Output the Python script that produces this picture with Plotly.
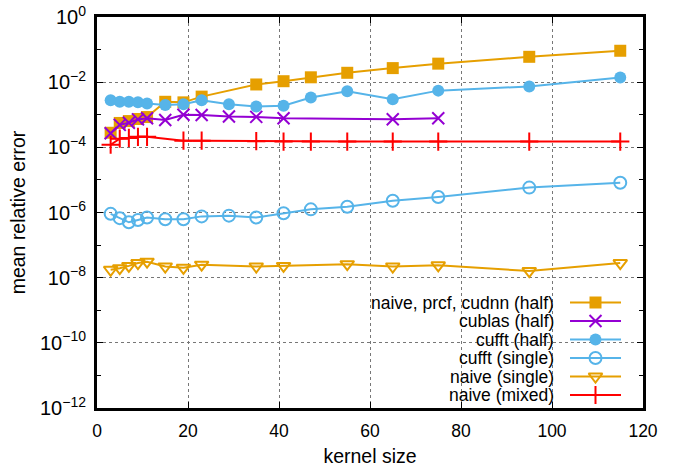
import plotly.graph_objects as go

# kernel sizes and mean relative error per implementation
x_prcf = [3, 5, 7, 9, 11, 15, 19, 23, 35, 41, 47, 55, 65, 75, 95, 115]
y_prcf = [2.8e-4, 5.6e-4, 6.4e-4, 7.4e-4, 8.5e-4, 2.5e-3, 2.4e-3, 3.6e-3,
          8.5e-3, 1.07e-2, 1.41e-2, 1.94e-2, 2.7e-2, 3.7e-2, 6.0e-2, 9.2e-2]

x_cublas = [3, 5, 7, 9, 11, 15, 19, 23, 29, 35, 41, 65, 75]
y_cublas = [2.7e-4, 4.9e-4, 5.7e-4, 7.2e-4, 7.8e-4, 6.9e-4, 1.0e-3, 9.8e-4,
            8.8e-4, 8.6e-4, 7.8e-4, 7.3e-4, 7.8e-4]

x_cufft_half = [3, 5, 7, 9, 11, 15, 19, 23, 29, 35, 41, 47, 55, 65, 75, 95, 115]
y_cufft_half = [2.8e-3, 2.5e-3, 2.5e-3, 2.4e-3, 2.2e-3, 2.0e-3, 2.1e-3, 2.8e-3,
                2.1e-3, 1.8e-3, 1.9e-3, 3.4e-3, 5.3e-3, 3.0e-3, 5.5e-3, 7.4e-3, 1.38e-2]

x_cufft_single = [3, 5, 7, 9, 11, 15, 19, 23, 29, 35, 41, 47, 55, 65, 75, 95, 115]
y_cufft_single = [9.1e-7, 6.7e-7, 5.0e-7, 5.9e-7, 7.0e-7, 6.2e-7, 6.2e-7, 7.6e-7,
                  8.0e-7, 7.0e-7, 9.5e-7, 1.25e-6, 1.5e-6, 2.3e-6, 3.0e-6, 5.8e-6, 8.2e-6]

x_naive_single = [3, 5, 7, 9, 11, 15, 19, 23, 35, 41, 55, 65, 75, 95, 115]
y_naive_single = [1.75e-8, 1.95e-8, 2.3e-8, 2.8e-8, 3.1e-8, 2.2e-8, 2.0e-8, 2.5e-8,
                  2.2e-8, 2.3e-8, 2.6e-8, 2.2e-8, 2.4e-8, 1.6e-8, 2.8e-8]

x_naive_mixed = [3, 5, 7, 9, 11, 19, 23, 35, 41, 47, 55, 65, 75, 95, 115]
y_naive_mixed = [1.2e-4, 1.85e-4, 1.95e-4, 2.1e-4, 2.1e-4, 1.6e-4, 1.6e-4, 1.55e-4,
                 1.5e-4, 1.5e-4, 1.5e-4, 1.5e-4, 1.5e-4, 1.5e-4, 1.5e-4]

x_ticks = [0, 20, 40, 60, 80, 100, 120]
y_exponents = [0, -2, -4, -6, -8, -10, -12]

ORANGE = "#E69F00"
PURPLE = "#9400D3"
BLUE = "#56B4E9"
RED = "#FF0000"

series = [
    ("naive, prcf, cudnn (half)", x_prcf, y_prcf, ORANGE,
     dict(symbol="square", size=12, color=ORANGE)),
    ("cublas (half)", x_cublas, y_cublas, PURPLE,
     dict(symbol="x-thin", size=12, line=dict(color=PURPLE, width=2))),
    ("cufft (half)", x_cufft_half, y_cufft_half, BLUE,
     dict(symbol="circle", size=12, color=BLUE)),
    ("cufft (single)", x_cufft_single, y_cufft_single, BLUE,
     dict(symbol="circle-open", size=12, color=BLUE, line=dict(color=BLUE, width=2))),
    ("naive (single)", x_naive_single, y_naive_single, ORANGE,
     dict(symbol="triangle-down-open", size=12, color=ORANGE, line=dict(color=ORANGE, width=2))),
    ("naive (mixed)", x_naive_mixed, y_naive_mixed, RED,
     dict(symbol="cross-thin", size=13, line=dict(color=RED, width=2))),
]

fig = go.Figure()
for name, xs, ys, color, marker in series:
    fig.add_trace(go.Scatter(x=xs, y=ys, mode="lines+markers", name=name,
                             line=dict(color=color, width=2), marker=marker,
                             showlegend=False, cliponaxis=False))

# key drawn in an overlay axis measured in pixels of the plot area
W, H = 687, 469
L, R, T, B = 97, 44, 17, 61
key_top, key_gap = 302.5, 18.5
key_text_x, key_line = 556, (570, 621)
annotations = []
for i, (name, xs, ys, color, marker) in enumerate(series):
    ky = key_top + i * key_gap
    fig.add_trace(go.Scatter(x=list(key_line), y=[ky, ky], mode="lines",
                             line=dict(color=color, width=2), xaxis="x2", yaxis="y2",
                             showlegend=False, hoverinfo="skip"))
    fig.add_trace(go.Scatter(x=[sum(key_line) / 2], y=[ky], mode="markers",
                             marker=marker, xaxis="x2", yaxis="y2",
                             showlegend=False, hoverinfo="skip"))
    annotations.append(dict(x=key_text_x, y=ky, xref="x2", yref="y2", text=name,
                            showarrow=False, xanchor="right", yanchor="middle",
                            font=dict(size=17.5, color="black")))

axis_font = dict(family="Liberation Sans, Arial, sans-serif", size=18, color="black")
fig.update_layout(
    width=W, height=H,
    margin=dict(l=L, r=R, t=T, b=B, autoexpand=False),
    paper_bgcolor="white", plot_bgcolor="white",
    font=axis_font,
    annotations=annotations,
    xaxis=dict(range=[0, 120], tickvals=x_ticks, ticks="inside", ticklen=6,
               tickwidth=1, tickcolor="black", showline=True, linewidth=3,
               linecolor="black", mirror="allticks", showgrid=True,
               gridcolor="#777", griddash="dot", gridwidth=1, zeroline=False,
               ticklabelstandoff=5, automargin=False,
               title=dict(text="kernel size", font=dict(size=19.5), standoff=10),
               tickfont=dict(size=17.5)),
    yaxis=dict(type="log", range=[-12, 0],
               tickvals=[10.0 ** e for e in y_exponents],
               ticktext=["10<sup>%s</sup>" % (str(e).replace("-", "−")) for e in y_exponents],
               ticks="inside", ticklen=6, tickwidth=1, tickcolor="black",
               minor=dict(tickvals=[10.0 ** e for e in range(-11, 0, 2)],
                          ticks="inside", ticklen=4, tickcolor="black", showgrid=False),
               showline=True, linewidth=3, linecolor="black", mirror="allticks",
               showgrid=True, gridcolor="#777", griddash="dot", gridwidth=1,
               zeroline=False, ticklabelstandoff=4, automargin=False,
               title=dict(text="mean relative error", font=dict(size=19.5), standoff=10),
               tickfont=dict(size=20)),
    xaxis2=dict(range=[L, W - R], overlaying="x", visible=False, fixedrange=True),
    yaxis2=dict(range=[H - B, T], overlaying="y", visible=False, fixedrange=True),
)

fig.write_html("out.html")
